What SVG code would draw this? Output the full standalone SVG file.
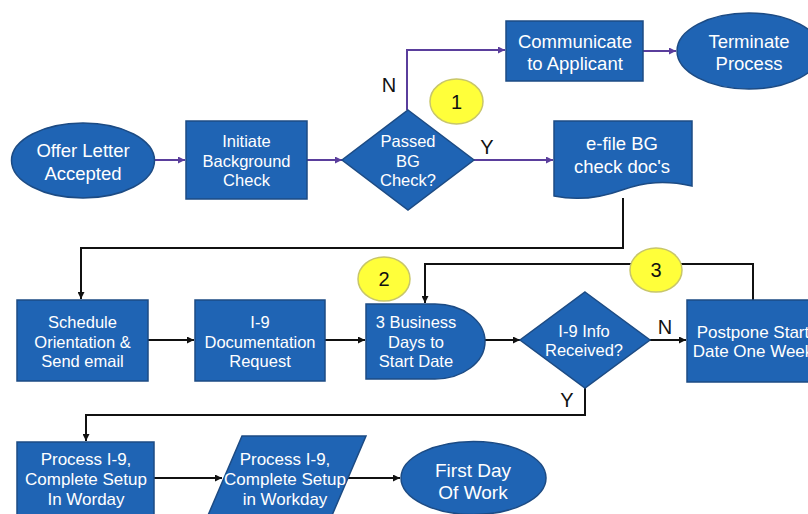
<svg xmlns="http://www.w3.org/2000/svg" width="808" height="514" viewBox="0 0 808 514">
<defs>
<marker id="ab" viewBox="0 0 10 10" refX="10" refY="5" markerWidth="8" markerHeight="7" markerUnits="userSpaceOnUse" orient="auto"><path d="M0,0 L10,5 L0,10 Z" fill="#111"/></marker>
<marker id="ap" viewBox="0 0 10 10" refX="10" refY="5" markerWidth="8" markerHeight="7" markerUnits="userSpaceOnUse" orient="auto"><path d="M0,0 L10,5 L0,10 Z" fill="#5a3e9c"/></marker>
</defs>
<style>
.n{fill:#1F64B4;stroke:#1C4B84;stroke-width:1.5}
.t{font-family:"Liberation Sans",Arial,sans-serif;fill:#fff;text-anchor:middle;dominant-baseline:central}
.s{font-size:16.5px}
.m{font-size:18.5px}
.y{fill:#FFFF3A;stroke:#C8C66A;stroke-width:1.5}
.k{font-family:"Liberation Sans",Arial,sans-serif;fill:#111;text-anchor:middle;dominant-baseline:central;font-size:20px}
.cb{fill:none;stroke:#111;stroke-width:2;marker-end:url(#ab)}
.cbn{fill:none;stroke:#111;stroke-width:2}
.cp{fill:none;stroke:#5a3e9c;stroke-width:2;marker-end:url(#ap)}
</style>
<rect width="808" height="514" fill="#fff"/>
<g id="connectors">
<path class="cp" d="M154,160 H185"/>
<path class="cp" d="M307,160 H342"/>
<path class="cp" d="M407,110 V50 H505"/>
<path class="cp" d="M643,51 H676"/>
<path class="cp" d="M474,160 H553"/>
<path class="cb" d="M623,198 V248 H81 V299"/>
<path class="cb" d="M148,340 H194"/>
<path class="cb" d="M325,340 H365"/>
<path class="cb" d="M485,340 H520"/>
<path class="cb" d="M650,340 H686"/>
<path class="cb" d="M753,300 V264 H425 V303"/>
<path class="cb" d="M585,388 V415 H86 V441"/>
<path class="cb" d="M154,478 H222"/>
<path class="cb" d="M348,478 H400"/>
</g>
<g id="labels">
<text class="k" x="389" y="85">N</text>
<text class="k" x="487" y="147">Y</text>
<text class="k" x="665" y="327">N</text>
<text class="k" x="567" y="400">Y</text>
</g>
<g id="offer"><ellipse class="n" cx="83" cy="160.5" rx="71.5" ry="37.5"/><text class="t m" x="83" y="150">Offer Letter</text><text class="t m" x="83" y="173">Accepted</text></g>
<g id="initiate"><rect class="n" x="186" y="121" width="121" height="78"/><text class="t s" x="246.5" y="141">Initiate</text><text class="t s" x="246.5" y="161">Background</text><text class="t s" x="246.5" y="180">Check</text></g>
<g id="passed"><polygon class="n" points="408,110 474,160 408,210 342,160"/><text class="t s" x="408" y="141">Passed</text><text class="t s" x="408" y="161">BG</text><text class="t s" x="408" y="180">Check?</text></g>
<g id="communicate"><rect class="n" x="506" y="21" width="137" height="60"/><text class="t m" x="575" y="41">Communicate</text><text class="t m" x="575" y="63">to Applicant</text></g>
<g id="terminate"><ellipse class="n" cx="749" cy="51" rx="72" ry="38"/><text class="t m" x="749" y="41">Terminate</text><text class="t m" x="749" y="63">Process</text></g>
<g id="efile"><path class="n" d="M554,121 H692 V186 C665,180 645,182 622,190 C600,198 578,201 554,196 Z"/><text class="t m" x="622" y="143">e-file BG</text><text class="t m" x="622" y="166">check doc's</text></g>
<g id="c1"><ellipse class="y" cx="456.5" cy="101.5" rx="26.5" ry="22.5"/><text class="k" x="456.5" y="101.5">1</text></g>
<g id="schedule"><rect class="n" x="17" y="300" width="131" height="81"/><text class="t s" x="82.5" y="322">Schedule</text><text class="t s" x="82.5" y="342">Orientation &amp;</text><text class="t s" x="82.5" y="361">Send email</text></g>
<g id="i9doc"><rect class="n" x="195" y="300" width="130" height="81"/><text class="t s" x="260" y="322">I-9</text><text class="t s" x="260" y="342">Documentation</text><text class="t s" x="260" y="361">Request</text></g>
<g id="delay"><path class="n" d="M366,304 H435 A50,37.5 0 0 1 435,379 H366 Z"/><text class="t s" x="416" y="322">3 Business</text><text class="t s" x="416" y="342">Days to</text><text class="t s" x="416" y="361">Start Date</text></g>
<g id="c2"><ellipse class="y" cx="384" cy="279" rx="26" ry="22"/><text class="k" x="384" y="279">2</text></g>
<g id="i9info"><polygon class="n" points="585,292 650,340 585,388 520,340"/><text class="t s" x="584" y="331">I-9 Info</text><text class="t s" x="584" y="350">Received?</text></g>
<g id="postpone"><rect class="n" x="687" y="300" width="132" height="82"/><text class="t" style="font-size:17px" x="753" y="332">Postpone Start</text><text class="t" style="font-size:17px" x="753" y="351">Date One Week</text></g>
<g id="c3"><ellipse class="y" cx="656" cy="270" rx="26" ry="22"/><text class="k" x="656" y="270">3</text></g>
<g id="process1"><rect class="n" x="17" y="442" width="137" height="80"/><text class="t" style="font-size:17px" x="86" y="459">Process I-9,</text><text class="t" style="font-size:17px" x="86" y="479">Complete Setup</text><text class="t" style="font-size:17px" x="86" y="499">In Worday</text></g>
<g id="process2"><polygon class="n" points="242,436 366,436 330,520 206,520"/><text class="t" style="font-size:17px" x="285" y="459">Process I-9,</text><text class="t" style="font-size:17px" x="285" y="479">Complete Setup</text><text class="t" style="font-size:17px" x="285" y="499">in Workday</text></g>
<g id="firstday"><ellipse class="n" cx="473.5" cy="478" rx="72.5" ry="36.5"/><text class="t" style="font-size:19px" x="473" y="470">First Day</text><text class="t" style="font-size:19px" x="473" y="492">Of Work</text></g>
</svg>
